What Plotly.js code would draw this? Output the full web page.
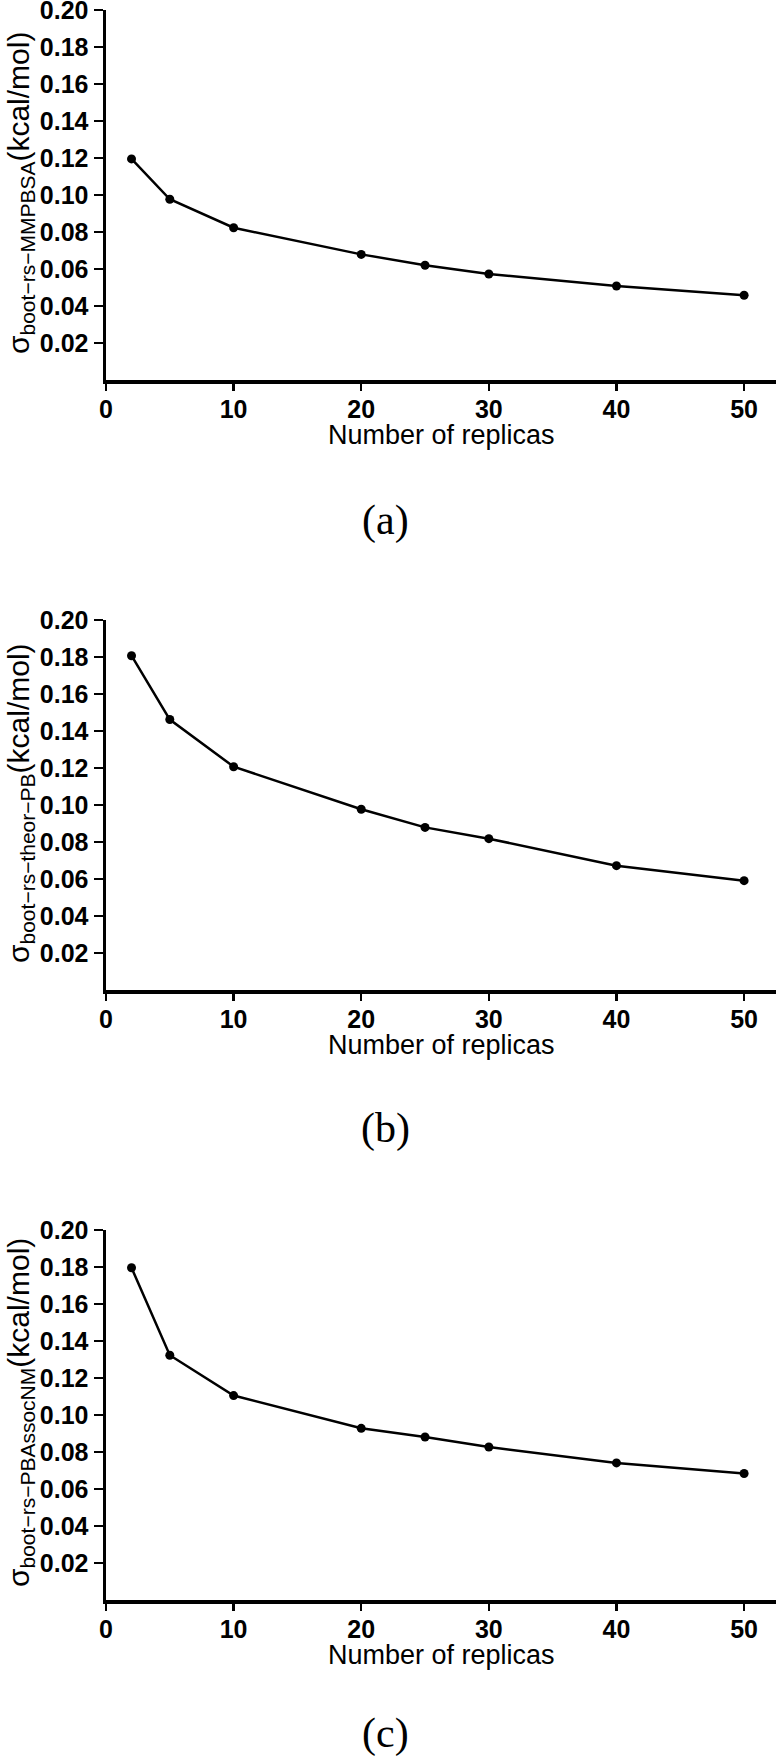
<!DOCTYPE html>
<html>
<head>
<meta charset="utf-8">
<script src="https://cdn.plot.ly/plotly-3.0.1.min.js"></script>
<style>
  body { margin: 0; background: #fff; }
  #chart { width: 776px; height: 1759px; }
</style>
</head>
<body>
<div id="chart"></div>
<script>
// values
const replicas = [2, 5, 10, 20, 25, 30, 40, 50];
const sigmaMMPBSA = [0.1195, 0.0977, 0.0823, 0.0679, 0.0620, 0.0573, 0.0508, 0.0458];
const sigmaTheorPB = [0.1807, 0.1462, 0.1207, 0.0977, 0.0879, 0.0818, 0.0672, 0.0591];
const sigmaPBAssocNM = [0.1796, 0.1323, 0.1105, 0.0928, 0.0881, 0.0827, 0.0741, 0.0684];

const subscripts = ['boot−rs−MMPBSA', 'boot−rs−theor−PB', 'boot−rs−PBAssocNM'];
const panelLabels = ['(a)', '(b)', '(c)'];
const xTicks = [0, 10, 20, 30, 40, 50];
const yTicks = [0.02, 0.04, 0.06, 0.08, 0.10, 0.12, 0.14, 0.16, 0.18, 0.20];

const series = [sigmaMMPBSA, sigmaTheorPB, sigmaPBAssocNM];

const W = 776, H = 1759;
const plotLeft = 106;
const panelTops = [10, 620, 1230];
const panelH = 370;
const labelOffsets = [140, 138, 133];

const sans = 'Liberation Sans, Arial, sans-serif';
const tickFont = { family: sans, size: 25, color: '#000', weight: 700 };

var data = [];
var layout = {
    width: W,
    height: H,
    margin: { l: 0, r: 0, t: 0, b: 0 },
    paper_bgcolor: '#fff',
    plot_bgcolor: '#fff',
    showlegend: false,
    annotations: []
};

for (let i = 0; i < series.length; i++) {
    const n = i === 0 ? '' : String(i + 1);
    const top = panelTops[i];
    const bottom = top + panelH;

    data.push({
        x: replicas,
        y: series[i],
        xaxis: 'x' + n,
        yaxis: 'y' + n,
        type: 'scatter',
        mode: 'lines+markers',
        line: { color: '#000', width: 2.5 },
        marker: { color: '#000', size: 9 },
        cliponaxis: false
    });

    layout['xaxis' + n] = {
        domain: [plotLeft / W, 1],
        anchor: 'y' + n,
        range: [0, 52.5],
        tickvals: xTicks,
        ticks: 'outside',
        ticklen: 7,
        tickwidth: 2.5,
        tickcolor: '#000',
        ticklabelstandoff: -3,
        showline: true,
        linecolor: '#000',
        linewidth: 3.5,
        showgrid: false,
        zeroline: false,
        tickfont: tickFont
    };

    layout['yaxis' + n] = {
        domain: [1 - bottom / H, 1 - top / H],
        anchor: 'x' + n,
        range: [0, 0.2],
        tickvals: yTicks,
        tickformat: '.2f',
        ticks: 'outside',
        ticklen: 9,
        tickwidth: 2.5,
        tickcolor: '#000',
        ticklabeloverflow: 'allow',
        showline: true,
        linecolor: '#000',
        linewidth: 3.5,
        showgrid: false,
        zeroline: false,
        tickfont: tickFont
    };

    // y title: sigma with subscript
    layout.annotations.push({
        xref: 'paper', yref: 'paper',
        x: 20 / W, y: 1 - (top + 183) / H,
        xanchor: 'center', yanchor: 'middle',
        textangle: -90,
        showarrow: false,
        text: 'σ<sub>' + subscripts[i] + '</sub>(kcal/mol)',
        font: { family: sans, size: 30, color: '#000' }
    });

    // x title
    layout.annotations.push({
        xref: 'paper', yref: 'paper',
        x: 441 / W, y: 1 - (bottom + 55) / H,
        xanchor: 'center', yanchor: 'middle',
        showarrow: false,
        text: 'Number of replicas',
        font: { family: sans, size: 27, color: '#000' }
    });

    // panel label
    layout.annotations.push({
        xref: 'paper', yref: 'paper',
        x: 385 / W, y: 1 - (bottom + labelOffsets[i]) / H,
        xanchor: 'center', yanchor: 'middle',
        showarrow: false,
        text: panelLabels[i],
        font: { family: 'Liberation Serif, Times New Roman, serif', size: 42, color: '#000' }
    });
}

Plotly.newPlot('chart', data, layout, { staticPlot: true });
</script>
</body>
</html>
